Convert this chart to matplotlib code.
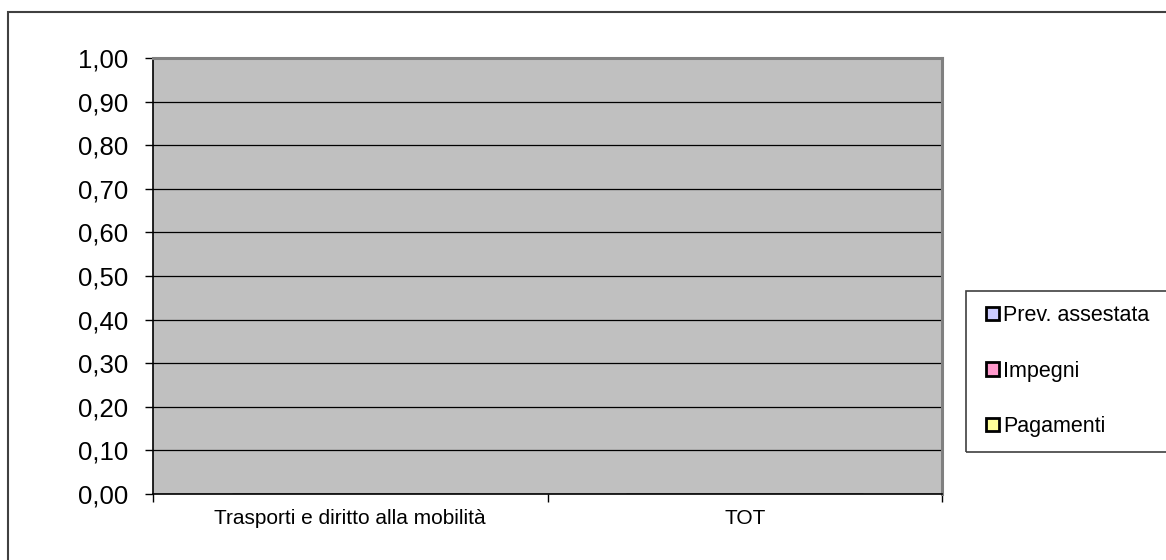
import matplotlib
matplotlib.use("Agg")
import matplotlib.pyplot as plt
from matplotlib.patches import Patch, Rectangle
from matplotlib.ticker import FixedLocator

plt.rcParams['font.family'] = ['Liberation Sans', 'DejaVu Sans']

categories = ["Trasporti e diritto alla mobilità", "TOT"]
series_names = ["Prev. assestata", "Impegni", "Pagamenti"]
prev_assestata = [0.0, 0.0]
impegni = [0.0, 0.0]
pagamenti = [0.0, 0.0]
series_values = [prev_assestata, impegni, pagamenti]
colors = ["#CCCCFF", "#FF99CC", "#FFFF99"]
y_ticks = [0.0, 0.1, 0.2, 0.3, 0.4, 0.5, 0.6, 0.7, 0.8, 0.9, 1.0]
y_labels = ["0,00", "0,10", "0,20", "0,30", "0,40", "0,50", "0,60", "0,70", "0,80", "0,90", "1,00"]

W, H = 1166, 560
fig = plt.figure(figsize=(W / 100, H / 100), dpi=100)

# outer chart border
fig.patches.append(Rectangle((8 / W, 0 - 0.1), 1.1, (H - 12) / H + 0.1, transform=fig.transFigure,
                             fill=False, edgecolor="#404040", linewidth=1.5, zorder=0))

ax = fig.add_axes([153 / W, 1 - 494 / H, (942 - 153) / W, (494 - 58) / H])
ax.set_facecolor("#C0C0C0")

n = len(series_names)
bw = 0.2
for i, (name, vals, c) in enumerate(zip(series_names, series_values, colors)):
    xs = [k + 0.5 + (i - (n - 1) / 2) * bw for k in range(len(categories))]
    ax.bar(xs, vals, width=bw, color=c, edgecolor="black", linewidth=1, label=name, zorder=3)

ax.set_xlim(0, len(categories))
ax.set_ylim(0, 1)
ax.set_yticks(y_ticks)
ax.set_yticklabels(y_labels, fontsize=18.5)
ax.yaxis.grid(True, color="black", linewidth=0.9, zorder=1)
ax.set_axisbelow(True)
ax.tick_params(axis='y', direction='out', length=6, width=1, pad=12)

ax.xaxis.set_major_locator(FixedLocator(list(range(len(categories) + 1))))
ax.set_xticklabels([""] * (len(categories) + 1))
ax.xaxis.set_minor_locator(FixedLocator([k + 0.5 for k in range(len(categories))]))
ax.set_xticklabels(categories, minor=True, fontsize=15)
ax.tick_params(axis='x', which='major', direction='out', length=6, width=1)
ax.tick_params(axis='x', which='minor', length=0, pad=11)

for s in ["left", "bottom"]:
    ax.spines[s].set_color("black")
    ax.spines[s].set_linewidth(1.2)
for s in ["top", "right"]:
    ax.spines[s].set_color("#808080")
    ax.spines[s].set_linewidth(2.2)

# legend frame
fig.patches.append(Rectangle((966 / W, 1 - 452 / H), 0.3, (452 - 291) / H, transform=fig.transFigure,
                             fill=False, edgecolor="#404040", linewidth=1.2, zorder=2))
handles = [Patch(facecolor=c, edgecolor="black", linewidth=2, label=nm) for nm, c in zip(series_names, colors)]
leg = fig.legend(handles=handles, loc="center left", bbox_to_anchor=(975 / W, 1 - 371 / H),
                 frameon=False, fontsize=15.5, handlelength=0.6, handleheight=0.6,
                 handletextpad=0.2, labelspacing=1.6, borderpad=0)

fig.savefig("out.png", dpi=100)
